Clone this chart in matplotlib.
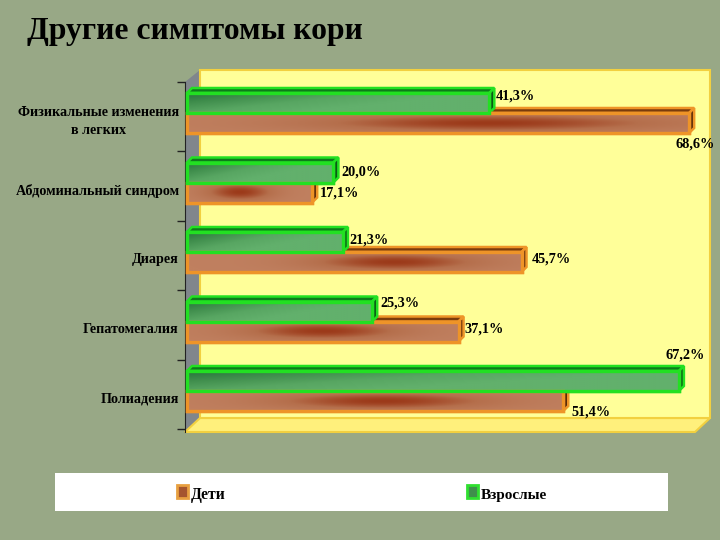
import numpy as np
import matplotlib
matplotlib.use("Agg")
import matplotlib.pyplot as plt
from matplotlib.patches import Polygon, Rectangle
from matplotlib.colors import LinearSegmentedColormap

plt.rcParams['font.family'] = ['Liberation Serif', 'DejaVu Serif']

# values
categories = ["Физикальные изменения\nв легких", "Абдоминальный синдром", "Диарея",
              "Гепатомегалия", "Полиадения"]
children = [68.6, 17.1, 45.7, 37.1, 51.4]
adults = [41.3, 20.0, 21.3, 25.3, 67.2]
children_labels = ["68,6%", "17,1%", "45,7%", "37,1%", "51,4%"]
adults_labels = ["41,3%", "20,0%", "21,3%", "25,3%", "67,2%"]

W, H = 720, 540
BG = "#98a886"
PX_PER_PCT = 7.32
ROW_PX = 69.5
BAR_PX = 20
DEPTH = 5

fig = plt.figure(figsize=(7.2, 5.4), dpi=100, facecolor=BG)

# pixel overlay for the 3d box, title and legend
bg = fig.add_axes([0, 0, 1, 1], zorder=0)
bg.set_xlim(0, W)
bg.set_ylim(H, 0)
bg.axis("off")
bg.add_patch(Polygon([(185, 82), (200, 70), (200, 418), (185, 432)], fc="#80868c", ec="none"))
bg.add_patch(Polygon([(185, 432), (200, 418), (710, 418), (695, 432)], fc="#fff07c", ec="#f2d040", lw=1.5))
bg.add_patch(Rectangle((200, 70), 510, 348, fc="#ffff99", ec="#f2d040", lw=1.5))
bg.text(27, 31, "Другие симптомы кори", fontsize=22.8, fontweight="bold", va="center", color="black")

# legend strip
bg.add_patch(Rectangle((55, 473), 613, 38, fc="white", ec="none"))
bg.add_patch(Rectangle((177, 485), 11, 13, fc="#a5552f", ec="#e8a040", lw=2))
bg.add_patch(Rectangle((467, 485), 11, 13, fc="#3f8f4c", ec="#30e030", lw=2))
bg.text(191, 495, "Дети", fontsize=11.3, fontweight="bold", va="center")
bg.text(481, 495, "Взрослые", fontsize=11, fontweight="bold", va="center")

# chart axes, transparent, in real data units
left, right, top, bottom = 185, 710, 70, 432
ax = fig.add_axes([left / W, 1 - bottom / H, (right - left) / W, (bottom - top) / H], zorder=1)
ax.patch.set_alpha(0)
for s in ["top", "right", "bottom"]:
    ax.spines[s].set_visible(False)
ax.spines["left"].set_color("#222222")
ax.spines["left"].set_bounds(-0.45, (bottom - 113) / ROW_PX)
ax.set_xticks([])
ax.set_yticks(np.arange(len(categories) + 1) - 0.45)
ax.set_yticklabels([])
ax.tick_params(axis="y", length=6, width=1, color="#222222")

y = np.arange(len(categories))
h = BAR_PX / ROW_PX
dx = DEPTH / PX_PER_PCT
dy = DEPTH / ROW_PX

green_map = LinearSegmentedColormap.from_list("g", ["#23703a", "#3f8d4c", "#58a662", "#62b06c"])
brown_map = LinearSegmentedColormap.from_list("b", ["#c08060", "#b56f4c", "#9c3a1a"])
band_at = [0.6, 0.42, 0.62, 0.5, 0.52]
band_w = [0.36, 0.28, 0.26, 0.3, 0.3]


def shade(kind, i, x0, x1, y0, y1, clip):
    xx, yy = np.meshgrid(np.linspace(0, 1, 200), np.linspace(0, 1, 30))
    if kind == "g":
        grad = np.clip(1.0 * xx + 0.6 * yy + 0.05, 0, 1)
        cmap = green_map
    else:
        grad = np.exp(-((xx - band_at[i]) / band_w[i]) ** 2) * np.exp(-((yy - 0.5) / 0.45) ** 2)
        cmap = brown_map
    im = ax.imshow(grad, extent=[x0, x1, y1, y0], cmap=cmap, vmin=0, vmax=1, aspect="auto", zorder=3.1)
    im.set_clip_path(clip)


def draw_bars(vals, ys, face, edge, top_c, side_c, kind):
    bars = ax.barh(ys, vals, height=h, color=face, edgecolor=edge, linewidth=2.4, zorder=3)
    for i, (b, v) in enumerate(zip(bars, vals)):
        x0, y0 = b.get_x(), b.get_y()
        x1, y1 = x0 + v, y0 + h
        ax.add_patch(Polygon([(x0, y0), (x0 + dx, y0 - dy), (x1 + dx, y0 - dy), (x1, y0)],
                             fc=top_c, ec=edge, lw=1.8, zorder=2.5))
        ax.add_patch(Polygon([(x1, y0), (x1 + dx, y0 - dy), (x1 + dx, y1 - dy), (x1, y1)],
                             fc=side_c, ec=edge, lw=1.8, zorder=2.5))
        shade(kind, i, x0, x1, y0, y1, b)
        # redraw the outline over the gradient
        ax.add_patch(Rectangle((x0, y0), v, h, fc="none", ec=edge, lw=2.4, zorder=3.2))
    return bars


draw_bars(children, y + h / 2, "#bb7a58", "#ee9428", "#7a3c0c", "#5a2a08", "b")
draw_bars(adults, y - h / 2, "#46934f", "#22e022", "#0f7a1c", "#0a5a14", "g")
ax.set_xlim(-2 / PX_PER_PCT, (right - 187) / PX_PER_PCT)
ax.set_ylim((bottom - 113) / ROW_PX, (top - 113) / ROW_PX)

# category labels, sit a bit below the group centre like in the original
for i, c in enumerate(categories):
    ax.annotate(c, (0, y[i]), xytext=(-6, -8 * 0.72), textcoords="offset points",
                ha="right", va="center", multialignment="center", fontsize=10.2, fontweight="bold",
                annotation_clip=False, linespacing=1.5)

# value labels, offsets as some are placed around the bar
child_off = [(-14, -21), (8, -1), (10, 3), (6, 2), (8, -11)]
adult_off = [(6, 7), (8, 0), (6, 2), (8, 8), (-13, 26)]
for i in range(len(categories)):
    ax.annotate(children_labels[i], (children[i], y[i] + h / 2), xytext=child_off[i],
                textcoords="offset pixels", fontsize=10.3, fontweight="bold", va="center",
                annotation_clip=False, zorder=6)
    ax.annotate(adults_labels[i], (adults[i], y[i] - h / 2), xytext=adult_off[i],
                textcoords="offset pixels", fontsize=10.3, fontweight="bold", va="center",
                annotation_clip=False, zorder=6)

plt.savefig("out.png", dpi=100, facecolor=BG)
